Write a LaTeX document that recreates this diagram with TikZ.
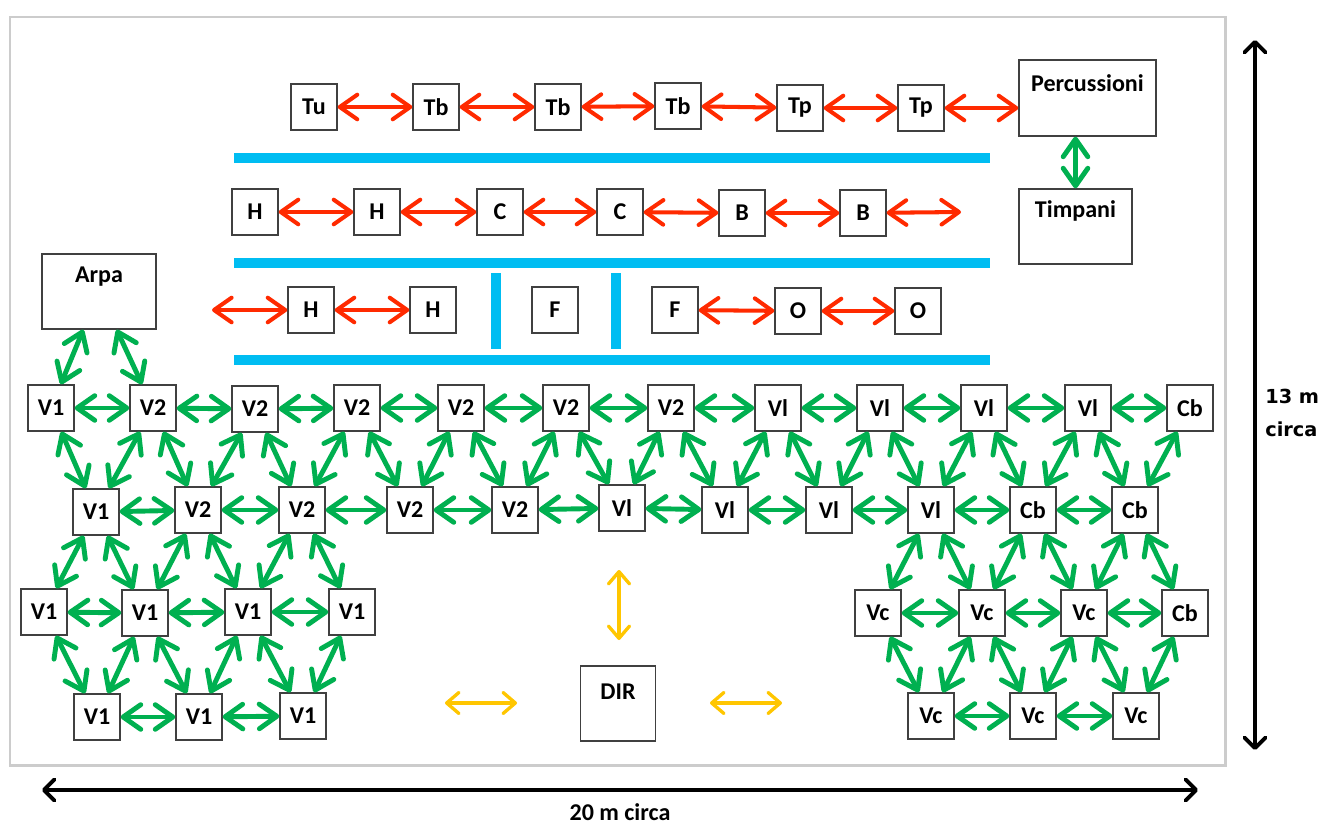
\documentclass[tikz,border=0pt]{standalone}
\usepackage{fontspec}
\setmainfont{Carlito}
\newfontfamily\dejavu{DejaVu Sans}
\usetikzlibrary{arrows.meta}
\definecolor{arrowred}{HTML}{FF2A00}
\definecolor{arrowgreen}{HTML}{00B050}
\definecolor{barblue}{HTML}{00BDF2}
\definecolor{arrowyellow}{HTML}{FFC600}

\begin{document}
\begin{tikzpicture}[
  x=0.02cm, y=-0.02cm,
  every node/.style={font=\bfseries\fontsize{13.7}{15}\selectfont},
  box/.style={draw=black!75, line width=0.8pt, minimum size=0.92cm, inner sep=0pt},
  bigbox/.style={draw=black!75, line width=0.8pt, inner sep=0pt},
  lab/.style={inner sep=0pt},
  ottoni/.style={draw=arrowred, line width=2.3pt, line cap=round,
    >={Straight Barb[round,length=10pt,width=14pt]}, <->},
  archi/.style={draw=arrowgreen, line width=2.8pt, line cap=round,
    >={Straight Barb[round,length=10pt,width=14pt]}, <->},
  dir/.style={draw=arrowyellow, line width=1.9pt, line cap=round,
    >={Straight Barb[round,length=7pt,width=12pt]}, <->},
  quota/.style={draw=black, line width=2.2pt,
    >={Straight Barb[round,length=6pt,width=12pt]}, <->},
  bar/.style={draw=barblue, line width=6pt}
]
\useasboundingbox (0,0) rectangle (1330,825);

% --- stage frame ---
\draw[gray!40, line width=1.7pt] (10,17) rectangle (1225,765);

% --- separators ---
\draw[bar] (234,158) -- (990,158);
\draw[bar] (234,263) -- (990,263);
\draw[bar] (234,360) -- (990,360);
\draw[bar] (496,273) -- (496,349);
\draw[bar] (616,273) -- (616,349);

% --- brass ---
\node[box] (tu)  at (314,107) {Tu};
\node[box] (tb1) at (436,107) {Tb};
\node[box] (tb2) at (558,107) {Tb};
\node[box] (tb3) at (678,106) {Tb};
\node[box] (tp1) at (800,108) {Tp};
\node[box] (tp2) at (921,108) {Tp};
\node[bigbox, minimum width=2.74cm, minimum height=1.52cm] (perc) at (1087.5,98) {};
\node[lab] (perct) at ([yshift=-0.48cm]perc.north) {Percussioni};
\node[bigbox, minimum width=2.26cm, minimum height=1.5cm] (timp) at (1075.5,226.5) {};
\node[lab] (timpt) at ([yshift=-0.46cm]timp.north) {Timpani};
\draw[ottoni] (tu) -- (tb1);
\draw[ottoni] (tb1) -- (tb2);
\draw[ottoni] (tb2) -- (tb3);
\draw[ottoni] (tb3) -- (tp1);
\draw[ottoni] (tp1) -- (tp2);
\draw[ottoni] (tp2) -- (tp2 -| perc.west);
\draw[archi] (timp.north) -- (timp.north |- perc.south);

% --- horns, clarinets, bassoons ---
\node[box] (h1)  at (255,212) {H};
\node[box] (h2)  at (377,212) {H};
\node[box] (cl1) at (500,212) {C};
\node[box] (cl2) at (620,212) {C};
\node[box] (fg1) at (742,213) {B};
\node[box] (fg2) at (863,213) {B};
\coordinate (fgend) at (961,212);
\draw[ottoni] (h1) -- (h2);
\draw[ottoni] (h2) -- (cl1);
\draw[ottoni] (cl1) -- (cl2);
\draw[ottoni] (cl2) -- (fg1);
\draw[ottoni] (fg1) -- (fg2);
\draw[ottoni] (fg2) -- (fgend);

% --- horns, flutes, oboes ---
\coordinate (hstart) at (212,310);
\node[box] (h3) at (311,310) {H};
\node[box] (h4) at (433,310) {H};
\node[box] (fl1) at (555,310) {F};
\node[box] (fl2) at (675,310) {F};
\node[box] (ob1) at (798,311) {O};
\node[box] (ob2) at (918,311) {O};
\draw[ottoni] (hstart) -- (h3);
\draw[ottoni] (h3) -- (h4);
\draw[ottoni] (fl2) -- (ob1);
\draw[ottoni] (ob1) -- (ob2);

% --- harp ---
\node[bigbox, minimum width=2.28cm, minimum height=1.5cm] (arpa) at (99,291.5) {};
\node[lab] (arpat) at ([yshift=-0.46cm]arpa.north) {Arpa};

% --- strings, first row ---
\node[box] (a1)  at (51,408)   {V1};
\node[box] (a2)  at (153,408)  {V2};
\node[box] (a3)  at (255,409)  {V2};
\node[box] (a4)  at (357,408)  {V2};
\node[box] (a5)  at (461,408)  {V2};
\node[box] (a6)  at (566,408)  {V2};
\node[box] (a7)  at (671,408)  {V2};
\node[box] (a8)  at (778,408)  {Vl};
\node[box] (a9)  at (880,408)  {Vl};
\node[box] (a10) at (984,408)  {Vl};
\node[box] (a11) at (1088,408) {Vl};
\node[box] (a12) at (1190,408) {Cb};

% --- strings, second row ---
\node[box] (b1)  at (96,512)   {V1};
\node[box] (b2)  at (198,510)  {V2};
\node[box] (b3)  at (302,510)  {V2};
\node[box] (b4)  at (410,510)  {V2};
\node[box] (b5)  at (515,510)  {V2};
\node[box] (b6)  at (622,508)  {Vl};
\node[box] (b7)  at (725,510)  {Vl};
\node[box] (b8)  at (829,510)  {Vl};
\node[box] (b9)  at (931,510)  {Vl};
\node[box] (b10) at (1033,510) {Cb};
\node[box] (b11) at (1135,510) {Cb};

% --- strings, third row ---
\node[box] (c1) at (44,612)   {V1};
\node[box] (c2) at (145,613)  {V1};
\node[box] (c3) at (248,612)  {V1};
\node[box] (c4) at (352,612)  {V1};
\node[box] (c5) at (878,613)  {Vc};
\node[box] (c6) at (982,613)  {Vc};
\node[box] (c7) at (1084,613) {Vc};
\node[box] (c8) at (1185,613) {Cb};

% --- strings, fourth row ---
\node[box] (d1) at (97,717)   {V1};
\node[box] (d2) at (199,717)  {V1};
\node[box] (d3) at (303,716)  {V1};
\node[box] (d4) at (931,716)  {Vc};
\node[box] (d5) at (1033,716) {Vc};
\node[box] (d6) at (1136,716) {Vc};

% --- string links ---
\draw[archi] (arpa) -- (a1);
\draw[archi] (arpa) -- (a2);
\foreach \i [count=\j from 2] in {1,...,11} {
  \draw[archi] (a\i) -- (a\j);
  \draw[archi] (a\i) -- (b\i);
  \draw[archi] (a\j) -- (b\i);
}
\foreach \i [count=\j from 2] in {1,...,10}
  \draw[archi] (b\i) -- (b\j);
\foreach \u/\l in {b1/c1, b1/c2, b2/c2, b2/c3, b3/c3, b3/c4,
                   b9/c5, b9/c6, b10/c6, b10/c7, b11/c7, b11/c8,
                   c1/c2, c2/c3, c3/c4, c5/c6, c6/c7, c7/c8,
                   c1/d1, c2/d1, c2/d2, c3/d2, c3/d3, c4/d3,
                   c5/d4, c6/d4, c6/d5, c7/d5, c7/d6, c8/d6,
                   d1/d2, d2/d3, d4/d5, d5/d6}
  \draw[archi] (\u) -- (\l);

% --- conductor ---
\node[bigbox, minimum size=1.5cm] (dirbox) at (618,703.5) {};
\node[lab] (dirt) at ([yshift=-0.52cm]dirbox.north) {DIR};
\draw[dir] (619,570) -- (619,640);
\draw[dir] (445,703) -- (517,703);
\draw[dir] (710,703) -- (782,703);

% --- dimensions ---
\coordinate (wl) at (42,790);
\coordinate (wr) at (1198,790);
\coordinate (ht) at (1255,40);
\coordinate (hb) at (1255,750);
\draw[quota] (wl) -- (wr);
\draw[quota] (ht) -- (hb);
\node[lab] (wlab) at (620,812) {20 m circa};
\node[lab, font=\dejavu\bfseries\fontsize{11}{19}\selectfont, align=left, anchor=west] (hlab) at (1265,413) {13 m\\circa};

\end{tikzpicture}
\end{document}
